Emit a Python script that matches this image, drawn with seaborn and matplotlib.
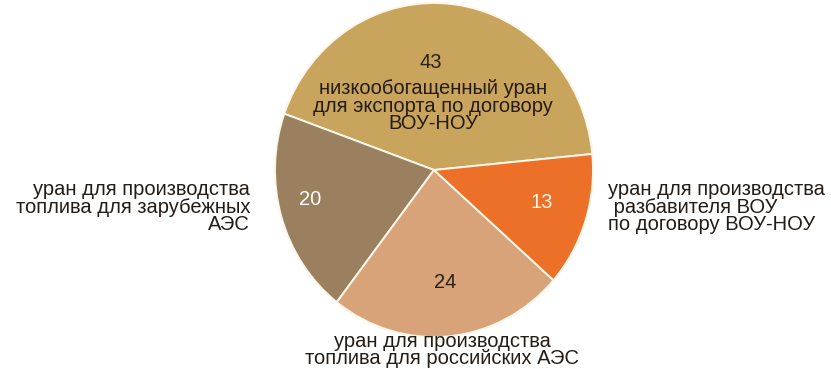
import matplotlib
matplotlib.use("Agg")
import matplotlib.pyplot as plt
import seaborn as sns

# Структура использования урана, %
values = [43, 20, 24, 13]
names = [
    "низкообогащенный уран\nдля экспорта по договору\nВОУ-НОУ",
    "уран для производства\nтоплива для зарубежных\nАЭС",
    "уран для производства\nтоплива для российских АЭС",
    "уран для производства\n разбавителя ВОУ\nпо договору ВОУ-НОУ",
]
colors = ["#C9A45C", "#9B805F", "#D9A37A", "#EC7028"]
number_colors = ["#2b2118", "#ffffff", "#2b2118", "#fff4ea"]

sns.set_theme(style="white")
plt.rcParams["font.family"] = ["Liberation Sans", "DejaVu Sans"]

W, H = 831, 369
fig = plt.figure(figsize=(W / 100, H / 100), dpi=100)
fig.patch.set_facecolor("white")


def fx(px):
    return px / W


def fy(py):
    return 1 - py / H


# pie area in pixels: left, top, right, bottom
pl, pt, pr, pb = 275, 3, 593, 337
ax = fig.add_axes([fx(pl), fy(pb), fx(pr) - fx(pl), fy(pt) - fy(pb)])
wedges, _ = ax.pie(
    values,
    colors=colors,
    startangle=5.5,
    counterclock=True,
    wedgeprops=dict(edgecolor="#fbf6e8", linewidth=1.4),
)
ax.set_aspect("auto")
ax.set_xlim(-1, 1)
ax.set_ylim(-1, 1)
ax.axis("off")

fs = 14.5

# value labels inside the wedges (pixel positions)
num_pos = [(431, 62), (310, 200), (445, 283), (542, 202)]
for (x, y), v, c in zip(num_pos, values, number_colors):
    fig.text(fx(x), fy(y), str(v), ha="center", va="center", fontsize=fs, color=c)

txt = dict(fontsize=fs, color="#241c16", linespacing=0.9)
fig.text(fx(433), fy(106), names[0], ha="center", va="center", multialignment="center", **txt)
fig.text(fx(250), fy(207), names[1], ha="right", va="center", multialignment="right", **txt)
fig.text(fx(442), fy(350), names[2], ha="center", va="center", multialignment="center", **txt)
fig.text(fx(608), fy(207), names[3], ha="left", va="center", multialignment="left", **txt)

fig.savefig("out.png", dpi=100, facecolor="white")
